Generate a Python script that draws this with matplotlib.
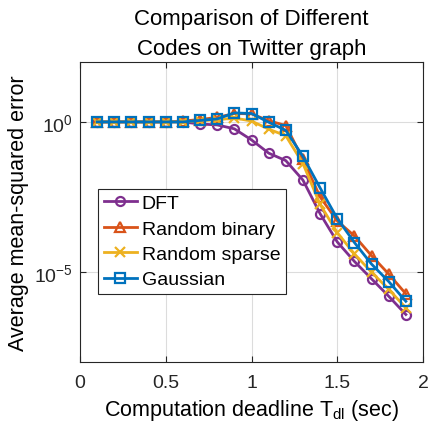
import numpy as np
import matplotlib
matplotlib.use('Agg')
import matplotlib.pyplot as plt

plt.rcParams['font.family'] = ['Liberation Sans', 'DejaVu Sans']
plt.rcParams['mathtext.fontset'] = 'custom'
plt.rcParams['mathtext.rm'] = 'Liberation Sans'
plt.rcParams['mathtext.it'] = 'Liberation Sans'

# deadline values (sec)
t_dl = [0.1, 0.2, 0.3, 0.4, 0.5, 0.6, 0.7, 0.8, 0.9, 1.0,
        1.1, 1.2, 1.3, 1.4, 1.5, 1.6, 1.7, 1.8, 1.9]

# log10 of average mean-squared error
dft_log = [0, 0, 0, 0, 0, 0, -0.07, -0.1, -0.23, -0.6,
           -1.04, -1.29, -1.94, -3.06, -4.0, -4.65, -5.23, -5.81, -6.42]
binary_log = [0, 0, 0, 0, 0, 0.03, 0.08, 0.15, 0.28, 0.27,
              0.04, -0.12, -1.25, -2.5, -3.3, -3.8, -4.46, -5.07, -5.73]
sparse_log = [0, 0, 0, 0, 0, 0, 0.04, 0.07, 0.13, 0.03,
              -0.24, -0.46, -1.39, -2.75, -3.69, -4.4, -5.01, -5.58, -6.2]
gauss_log = [0, 0, 0, 0, 0, 0, 0.05, 0.1, 0.3, 0.28,
             -0.01, -0.28, -1.15, -2.2, -3.22, -4.02, -4.74, -5.32, -5.98]

series = [
    ('DFT', dft_log, '#7E2F8E', 'o'),
    ('Random binary', binary_log, '#D95319', '^'),
    ('Random sparse', sparse_log, '#EDB120', 'x'),
    ('Gaussian', gauss_log, '#0072BD', 's'),
]

fig = plt.figure(figsize=(4.29, 4.31), dpi=100)
ax = fig.add_axes([0.1865, 0.158, 0.7995, 0.696])

for name, vals, color, marker in series:
    ax.semilogy(t_dl, 10.0 ** np.array(vals), color=color, marker=marker,
                lw=2, ms=6.5, mew=1.6, fillstyle='none', label=name)

ax.set_xlim(0, 2)
ax.set_ylim(1e-8, 1e2)
ax.set_xticks([0, 0.5, 1, 1.5, 2])
ax.set_xticklabels(['0', '0.5', '1', '1.5', '2'])
ax.set_yticks([1e-5, 1e0])
ax.set_yticklabels(['$10^{-5}$', '$10^{0}$'])
ax.minorticks_off()
ax.tick_params(direction='in', length=4, labelsize=14, top=True, right=True,
               colors='#262626', pad=5)
ax.tick_params(axis='x', pad=9)
ax.grid(True, color='#dcdcdc', lw=0.8)
for sp in ax.spines.values():
    sp.set_color('#262626')

ax.set_xlabel('Computation deadline T$_{\\rm dl}$ (sec)', fontsize=15.5,
              labelpad=4)
ax.set_ylabel('Average mean-squared error', fontsize=15.5, labelpad=4)
ax.set_title('Comparison of Different\nCodes on Twitter graph', fontsize=16,
             linespacing=1.55, pad=6)

leg = ax.legend(loc='upper left', bbox_to_anchor=(0.052, 0.577), fontsize=14,
                fancybox=False, framealpha=1, edgecolor='#262626',
                handlelength=1.7, handletextpad=0.25, borderpad=0.3,
                labelspacing=0.4, borderaxespad=0)
leg.get_frame().set_linewidth(0.8)

fig.savefig('out.png', dpi=100)
